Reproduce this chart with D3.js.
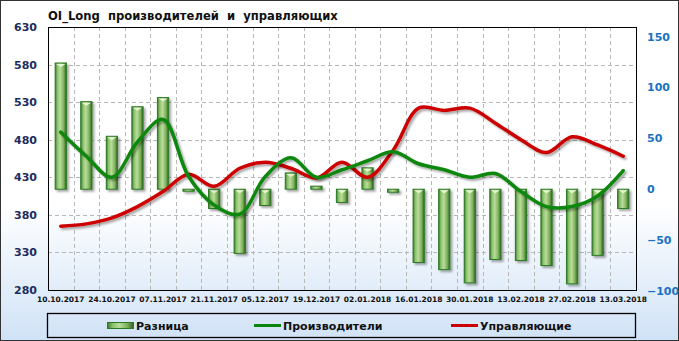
<!doctype html>
<html>
<head>
<meta charset="UTF-8">
<title>OI_Long</title>
<script src="https://d3js.org/d3.v7.min.js"></script>
<style>
    body { margin: 0; }
    svg { display: block; font-family: "DejaVu Sans", Verdana, sans-serif; }
</style>
</head>
<body>
<svg width="679" height="341"></svg>
<script>
    var dates = ["10.10.2017", "17.10.2017", "24.10.2017", "31.10.2017", "07.11.2017", "14.11.2017",
        "21.11.2017", "28.11.2017", "05.12.2017", "12.12.2017", "19.12.2017", "26.12.2017",
        "02.01.2018", "09.01.2018", "16.01.2018", "23.01.2018", "30.01.2018", "06.02.2018",
        "13.02.2018", "20.02.2018", "27.02.2018", "06.03.2018", "13.03.2018"];
    // Разница (right axis)
    var raznica = [124, 86, 52, 81, 90, -2, -19, -63, -16, 16, 3, -13,
        21, -3, -72, -79, -92, -69, -70, -75, -93, -65, -19];
    // Производители (left axis)
    var proizv = [490, 458, 430, 477, 507, 431, 393, 381, 431, 456, 430, 440,
        452, 464, 448, 440, 430, 435, 411, 391, 391, 405, 439];
    // Управляющие (left axis)
    var uprav = [365, 368, 376, 391, 411, 434, 418, 442, 450, 442, 429, 450,
        430, 466, 522, 519, 522, 502, 480, 463, 484, 473, 458];
    var leftTicks = [280, 330, 380, 430, 480, 530, 580, 630];
    var rightTicks = [-100, -50, 0, 50, 100, 150];
    var legendNames = ["Разница", "Производители", "Управляющие"];

    var W = 679, H = 341;
    var px0 = 48, px1 = 636, py0 = 27, py1 = 290;
    var svg = d3.select("svg");
    var defs = svg.append("defs");

    var bg = defs.append("linearGradient").attr("id", "bg").attr("x1", 0).attr("y1", 0).attr("x2", 0).attr("y2", 1);
    bg.append("stop").attr("offset", "0").attr("stop-color", "#ffffff");
    bg.append("stop").attr("offset", "0.6").attr("stop-color", "#ffffff");
    bg.append("stop").attr("offset", "1").attr("stop-color", "#d0e2f6");

    var bar = defs.append("linearGradient").attr("id", "bar").attr("x1", 0).attr("y1", 0).attr("x2", 1).attr("y2", 0);
    bar.append("stop").attr("offset", "0").attr("stop-color", "#3f7530");
    bar.append("stop").attr("offset", "0.2").attr("stop-color", "#8cc36a");
    bar.append("stop").attr("offset", "0.45").attr("stop-color", "#b9dc9c");
    bar.append("stop").attr("offset", "0.75").attr("stop-color", "#7fb35c");
    bar.append("stop").attr("offset", "1").attr("stop-color", "#2f5e24");

    var sh = defs.append("filter").attr("id", "sh").attr("x", "-20%").attr("y", "-20%").attr("width", "140%").attr("height", "140%");
    sh.append("feDropShadow").attr("dx", 2).attr("dy", 2).attr("stdDeviation", 1.2)
        .attr("flood-color", "#000").attr("flood-opacity", 0.35);

    svg.append("rect").attr("x", 0.5).attr("y", 0.5).attr("width", W - 1).attr("height", H - 1)
        .attr("fill", "url(#bg)").attr("stroke", "#333");

    var x = d3.scaleBand().domain(dates).range([px0, px1]).paddingInner(0.56).paddingOuter(0.28);
    var xc = function (d) { return x(d) + x.bandwidth() / 2; };
    var yl = d3.scaleLinear().domain([280, 630]).range([py1, py0]);
    var yr = d3.scaleLinear().domain([-100, 150]).range([291, 36.5]);
    var step = (px1 - px0) / dates.length;

    // grid
    var g = svg.append("g");
    g.selectAll(".hg").data(leftTicks.slice(1, -1)).enter().append("line")
        .attr("x1", px0).attr("x2", px1)
        .attr("y1", function (d) { return Math.round(yl(d)) + 0.5; })
        .attr("y2", function (d) { return Math.round(yl(d)) + 0.5; })
        .attr("stroke", "#b8b8b8").attr("stroke-dasharray", "4,3");
    g.selectAll(".vg").data(d3.range(1, dates.length)).enter().append("line")
        .attr("y1", py0).attr("y2", py1)
        .attr("x1", function (i) { return Math.round(px0 + step * i) + 0.5; })
        .attr("x2", function (i) { return Math.round(px0 + step * i) + 0.5; })
        .attr("stroke", "#b8b8b8").attr("stroke-dasharray", "4,3");

    // bars
    var bars = svg.append("g").attr("filter", "url(#sh)");
    bars.selectAll("rect").data(raznica).enter().append("rect")
        .attr("x", function (d, i) { return x(dates[i]); })
        .attr("y", function (d) { return Math.min(yr(d), yr(0)); })
        .attr("width", x.bandwidth())
        .attr("height", function (d) { return Math.max(2, Math.abs(yr(d) - yr(0))); })
        .attr("fill", "url(#bar)").attr("stroke", "#2a7a26").attr("stroke-width", 1);
    bars.selectAll("path").data(raznica).enter().append("path")
        .attr("d", function (d, i) {
            var bx = x(dates[i]), bw = x.bandwidth(), by = Math.min(yr(d), yr(0));
            if (Math.abs(yr(d) - yr(0)) < 6) return "";
            return "M" + (bx + 1) + "," + (by + 1) + "L" + (bx + bw - 1) + "," + (by + 1) + "L" + (bx + bw / 2) + "," + (by + 4) + "Z";
        })
        .attr("fill", "#e6f4d0");

    // lines
    var line = d3.line().x(function (d, i) { return xc(dates[i]); }).y(function (d) { return yl(d); })
        .curve(d3.curveCatmullRom.alpha(0.5));
    svg.append("path").datum(uprav).attr("d", line).attr("fill", "none")
        .attr("stroke", "#cc0000").attr("stroke-width", 3.5).attr("stroke-linecap", "round").attr("filter", "url(#sh)");
    svg.append("path").datum(proizv).attr("d", line).attr("fill", "none")
        .attr("stroke", "#0a870a").attr("stroke-width", 3.5).attr("stroke-linecap", "round").attr("filter", "url(#sh)");

    // plot border
    svg.append("rect").attr("x", px0 + 0.5).attr("y", py0 + 0.5).attr("width", px1 - px0).attr("height", py1 - py0)
        .attr("fill", "none").attr("stroke", "#000");

    // axes
    var la = svg.append("g").attr("transform", "translate(37,0)")
        .call(d3.axisLeft(yl).tickValues(leftTicks).tickSize(0).tickPadding(0));
    la.select(".domain").remove();
    la.selectAll("text").attr("font-size", 11).attr("font-weight", "bold").attr("fill", "#1c2c5e")
        .attr("font-family", "DejaVu Sans, sans-serif");

    var ra = svg.append("g").attr("transform", "translate(647,0)")
        .call(d3.axisRight(yr).tickValues(rightTicks).tickSize(0).tickPadding(0));
    ra.select(".domain").remove();
    ra.selectAll("text").attr("font-size", 11).attr("font-weight", "bold").attr("fill", "#1a72c4")
        .attr("font-family", "DejaVu Sans, sans-serif");

    var xa = svg.append("g").attr("transform", "translate(0," + py1 + ")")
        .call(d3.axisBottom(x).tickValues(dates.filter(function (d, i) { return i % 2 === 0; })).tickSize(0).tickPadding(7));
    xa.select(".domain").remove();
    xa.selectAll("text").attr("font-size", 7.5).attr("font-weight", "bold").attr("fill", "#111")
        .attr("font-family", "DejaVu Sans, sans-serif");

    // title
    svg.append("text").attr("x", 48).attr("y", 20).attr("font-size", 11.6).attr("font-weight", "bold")
        .attr("fill", "#111").attr("xml:space", "preserve")
        .text("OI_Long  производителей  и  управляющих");

    // legend
    var lg = svg.append("g");
    lg.append("rect").attr("x", 47.5).attr("y", 313.5).attr("width", 588).attr("height", 24)
        .attr("fill", "none").attr("stroke", "#000").attr("stroke-width", 1.3);
    lg.append("rect").attr("x", 107.5).attr("y", 322.5).attr("width", 26).attr("height", 6)
        .attr("fill", "url(#bar)").attr("stroke", "#2a7a26");
    lg.append("line").attr("x1", 254).attr("x2", 281).attr("y1", 325.5).attr("y2", 325.5)
        .attr("stroke", "#0a870a").attr("stroke-width", 3);
    lg.append("line").attr("x1", 451).attr("x2", 478).attr("y1", 325.5).attr("y2", 325.5)
        .attr("stroke", "#cc0000").attr("stroke-width", 3);
    var lx = [136, 283, 480];
    lg.selectAll("text").data(legendNames).enter().append("text")
        .attr("x", function (d, i) { return lx[i]; }).attr("y", 330)
        .attr("font-size", 11).attr("font-weight", "bold").attr("fill", "#111")
        .text(function (d) { return d; });
</script>
</body>
</html>
